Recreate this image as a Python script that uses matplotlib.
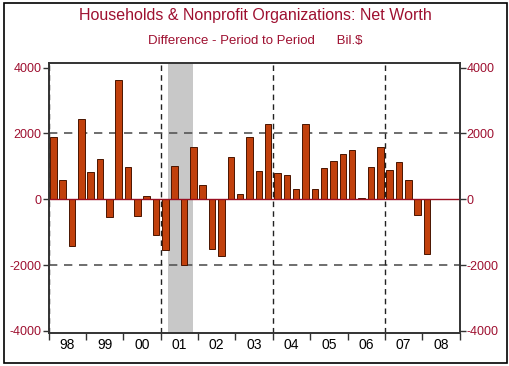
import numpy as np
import matplotlib.pyplot as plt
from matplotlib.patches import Rectangle

# quarterly change in net worth, bil. $, 1998Q1 - 2008Q1
years = ['98', '99', '00', '01', '02', '03', '04', '05', '06', '07', '08']
net_worth_diff = [1900, 580, -1420, 2450,
                  820, 1220, -550, 3620,
                  980, -520, 110, -1100,
                  -1550, 1020, -2000, 1600,
                  420, -1500, -1720, 1280,
                  150, 1900, 860, 2300,
                  800, 730, 300, 2300,
                  300, 960, 1160, 1380,
                  1500, 30, 970, 1590,
                  900, 1130, 600, -490,
                  -1660]
recession = (2001.2, 2001.86)
yticks = [-4000, -2000, 0, 2000, 4000]

red_text = '#9e1030'
bar_color = '#c1400c'

plt.rcParams['font.family'] = ['Liberation Sans', 'DejaVu Sans']

fig = plt.figure(figsize=(5.1, 3.66), dpi=100)
ax = fig.add_axes([0.0953, 0.0888, 0.806, 0.739])

x = 1998 + (np.arange(len(net_worth_diff)) + 0.5) / 4
ax.axvspan(recession[0], recession[1], color='#c8c8c8', zorder=0, lw=0)
ax.bar(x, net_worth_diff, width=0.175, color=bar_color, edgecolor='#4a1500', linewidth=0.7, zorder=3)
ax.axhline(0, color='#9a0f20', lw=1.0, zorder=4)
for v in [2000, -2000]:
    ax.axhline(v, color='#555555', lw=1.2, dashes=(5, 4), zorder=2)
for yr in [1998, 2001, 2004, 2007]:
    ax.axvline(yr, color='#222222', lw=1.0, dashes=(4, 3), zorder=2)

ax.set_xlim(1998, 2009)
ax.set_ylim(-4080, 4140)
ax.set_yticks(yticks)
ax.set_yticklabels([str(v) for v in yticks], color=red_text, fontsize=9)
ax.tick_params(axis='y', direction='out', length=4, width=1, color='#333333', pad=1)

ax.set_xticks(np.arange(1998, 2010))
ax.set_xticklabels([])
ax.set_xticks(np.arange(len(years)) + 1998.5, minor=True)
ax.set_xticklabels(years, minor=True, fontsize=10)
ax.tick_params(axis='x', which='major', direction='out', length=5, width=1, color='#333333')
ax.tick_params(axis='x', which='minor', length=0, pad=3)

ax2 = ax.twinx()
ax2.set_ylim(ax.get_ylim())
ax2.set_yticks(yticks)
ax2.set_yticklabels([str(v) for v in yticks], color=red_text, fontsize=9)
ax2.tick_params(axis='y', direction='out', length=4, width=1, color='#333333', pad=1)

for a in [ax, ax2]:
    for s in a.spines.values():
        s.set_color('#333333')
        s.set_linewidth(1.2)

fig.text(0.5, 0.958, 'Households & Nonprofit Organizations: Net Worth', ha='center', va='center',
         color=red_text, fontsize=11.5)
fig.text(0.5, 0.888, 'Difference - Period to Period      Bil.$', ha='center', va='center',
         color=red_text, fontsize=9.5)

fig.patches.append(Rectangle((0.008, 0.008), 0.986, 0.984, transform=fig.transFigure,
                             fill=False, edgecolor='black', lw=1.2))

fig.savefig('out.png', dpi=100)
